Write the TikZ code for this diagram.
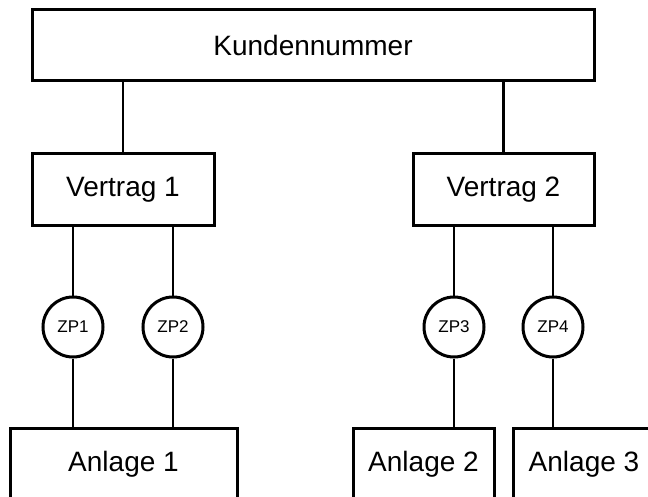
\documentclass[tikz,border=0pt]{standalone}
\usepackage{fontspec}
\setmainfont{Liberation Sans}
\usepackage{tikz}
\usetikzlibrary{positioning}

\begin{document}
\begin{tikzpicture}[
    x=1pt, y=-1pt,
    box/.style={rectangle, draw, line width=3pt, inner sep=0pt, minimum height=72pt, font=\fontsize{28}{32}\selectfont},
    zpkreis/.style={circle, draw, line width=3pt, inner sep=0pt, minimum size=60pt, font=\fontsize{17}{20}\selectfont},
    link/.style={line width=2.2pt}
]
    \useasboundingbox (0,0) rectangle (648,497);
    \clip (0,0) rectangle (648,497);

    % Nodes
    \node[box, minimum width=562pt, minimum height=71pt] (kunde) at (313,45.5) {Kundennummer};
    \node[box, minimum width=182pt] (vertrag1) at (123,190) {Vertrag 1};
    \node[box, minimum width=181pt] (vertrag2) at (503.5,190) {Vertrag 2};

    \node[zpkreis] (zp1) at (73,327) {ZP1};
    \node[zpkreis] (zp2) at (173,327) {ZP2};
    \node[zpkreis] (zp3) at (454,327) {ZP3};
    \node[zpkreis] (zp4) at (553,327) {ZP4};

    \node[box, minimum width=227pt] (anlage1) at (123.5,464) {Anlage 1};
    \node[box, minimum width=141pt] (anlage2) at (423.5,464) {Anlage 2};
    \node[box, minimum width=142pt] (anlage3) at (584,464) {Anlage 3};

    % Lines
    \draw[link] (kunde.south -| vertrag1) -- (vertrag1);
    \draw[link] (kunde.south -| vertrag2) -- (vertrag2);

    \draw[link] (vertrag1.south -| zp1) -- (zp1) -- (anlage1.north -| zp1);
    \draw[link] (vertrag1.south -| zp2) -- (zp2) -- (anlage1.north -| zp2);
    \draw[link] (vertrag2.south -| zp3) -- (zp3) -- (anlage2.north -| zp3);
    \draw[link] (vertrag2.south -| zp4) -- (zp4) -- (anlage3.north -| zp4);
\end{tikzpicture}
\end{document}
